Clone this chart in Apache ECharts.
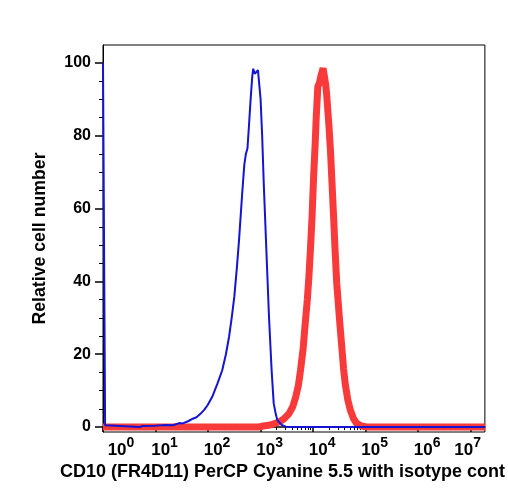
<!DOCTYPE html>
<html>
<head>
<meta charset="utf-8">
<script src="https://cdn.jsdelivr.net/npm/echarts@6/dist/echarts.min.js"></script>
<style>
  html, body { margin: 0; padding: 0; background: #fff; }
  #chart { width: 508px; height: 500px; }
</style>
</head>
<body>
<div id="chart"></div>
<script>
// x positions are log10 of fluorescence intensity (decades)
const decades = [0, 1, 2, 3, 4, 5, 6, 7]
const yTicks = [0, 20, 40, 60, 80, 100]
const yMinorTicks = [5, 10, 15, 25, 30, 35, 45, 50, 55, 65, 70, 75, 85, 90, 95]

// isotype control (blue)
const isoX = [0.00, 0.04, 0.06, 0.70, 0.75, 1.00, 1.20, 1.33, 1.45, 1.52, 1.62, 1.71, 1.78, 1.86, 1.93, 1.99,
  2.08, 2.18, 2.27, 2.34, 2.40, 2.45, 2.50, 2.55, 2.59, 2.65, 2.69, 2.72, 2.75, 2.78, 2.81, 2.84, 2.86,
  2.89, 2.92, 2.95, 2.97, 3.00, 3.03, 3.06, 3.11, 3.16, 3.21, 3.25, 3.29, 3.32, 3.40, 3.48, 3.60, 7.27]
const isoY = [100, 0.5, 0, 0, 0.3, 0.4, 0.6, 0.5, 1.1, 1.0, 1.6, 2.3, 2.7, 3.7, 4.8, 6.0,
  8.3, 12, 15.6, 20, 24.8, 30, 35.8, 44, 51.4, 64.2, 72, 75, 76.5, 83, 89.9, 96, 98.4,
  97, 96.8, 98, 97.7, 90, 80, 67, 48.6, 30.3, 15.6, 6.5, 3.5, 1.9, 0.6, 0.1, 0, 0]

// CD10 stained (red)
const cd10X = [0.00, 2.95, 3.05, 3.16, 3.25, 3.35, 3.45, 3.54, 3.61, 3.67, 3.72, 3.76, 3.81, 3.85, 3.89, 3.92,
  3.95, 3.98, 4.01, 4.04, 4.06, 4.09, 4.12, 4.15, 4.19, 4.22, 4.24, 4.26, 4.30, 4.33, 4.36, 4.39, 4.42,
  4.45, 4.50, 4.54, 4.58, 4.61, 4.66, 4.71, 4.77, 4.83, 4.92, 5.05, 7.27]
const cd10Y = [0, 0, 0.3, 0.5, 0.9, 1.4, 2.3, 3.7, 5.5, 8.3, 11.5, 15.6, 21.5, 28.5, 35, 41.3,
  49, 57.8, 68.8, 78, 85.3, 93.5, 94.5, 96.5, 98.5, 99, 94, 91, 83, 76, 67, 57.8, 48,
  39.5, 30, 23, 16, 12, 7.5, 4.6, 2.3, 1, 0.3, 0, 0]

const xMax = 7.27
const minorX = []
for (let n = 0; n < 7; n++) {
  for (let k = 2; k <= 9; k++) minorX.push(n + Math.log10(k))
}

const font = '"Liberation Sans", Arial, Helvetica, sans-serif'
const chart = echarts.init(document.getElementById('chart'))

const pairs = (xs, ys) => xs.map((x, i) => [x, ys[i]])
const txt = (size, extra) => Object.assign({ fontSize: size, fontWeight: 'bold', fontFamily: font, color: '#000' }, extra)

chart.setOption({
  animation: false,
  grid: {
    left: 103, top: 45, right: 21, bottom: 68,
    show: true, borderColor: '#000', borderWidth: 1
  },
  xAxis: [
    {
      type: 'value', min: 0, max: xMax, position: 'bottom',
      axisLine: { show: true, lineStyle: { color: '#000', width: 1.5 } },
      axisTick: { show: true, customValues: decades, length: 5, lineStyle: { color: '#000', width: 1.5 } },
      splitLine: { show: false },
      axisLabel: {
        customValues: decades,
        margin: 4,
        formatter: (v) => {
          if (v === 0) return '{b0|10}{s|0}'
          if (v === 7) return '{b|10}{s7|7}'
          return '{bm|10}{s|' + v + '}'
        },
        rich: {
          b0: txt(17, { padding: [0, 0, 0, 36] }),
          bm: txt(17, { padding: [0, 0, 0, 18] }),
          b: txt(17),
          s: txt(14, { padding: [0, 0, 14, 0] }),
          s7: txt(14, { padding: [0, 6, 14, 0] })
        }
      },
      name: 'CD10 (FR4D11) PerCP Cyanine 5.5 with isotype cont',
      nameLocation: 'middle',
      nameGap: 25,
      nameTextStyle: txt(18, { padding: [0, 23, 0, 0] })
    },
    {
      type: 'value', min: 0, max: xMax, position: 'bottom',
      axisLine: { show: false },
      axisTick: { show: true, customValues: minorX, length: 3, lineStyle: { color: '#000', width: 1 } },
      axisLabel: { show: false },
      splitLine: { show: false }
    }
  ],
  yAxis: [
    {
      type: 'value', min: -1.35, max: 104.9,
      axisLine: { show: true, lineStyle: { color: '#000', width: 1 } },
      axisTick: { show: true, customValues: yTicks, length: 8, lineStyle: { color: '#000', width: 1.5 } },
      axisLabel: Object.assign({ customValues: yTicks, margin: 12 }, txt(16)),
      splitLine: { show: false },
      name: 'Relative cell number',
      nameLocation: 'middle',
      nameGap: 54,
      nameTextStyle: txt(17.7)
    },
    {
      type: 'value', min: -1.35, max: 104.9, position: 'left',
      axisLine: { show: false },
      axisTick: { show: true, customValues: yMinorTicks, length: 4, lineStyle: { color: '#000', width: 1 } },
      axisLabel: { show: false },
      splitLine: { show: false }
    }
  ],
  series: [
    {
      name: 'CD10', type: 'line', data: pairs(cd10X, cd10Y),
      showSymbol: false, lineStyle: { color: '#f83a3a', width: 7 }, z: 2
    },
    {
      name: 'Isotype', type: 'line', data: pairs(isoX, isoY),
      showSymbol: false, lineStyle: { color: '#1414d2', width: 2 }, z: 3
    }
  ]
})
</script>
</body>
</html>
